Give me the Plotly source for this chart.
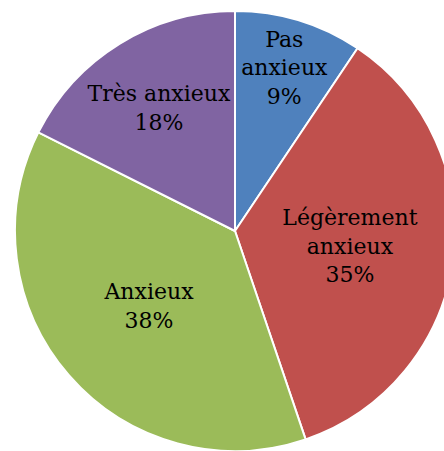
import plotly.graph_objects as go

categories = ["Pas<br>anxieux", "Légèrement<br>anxieux", "Anxieux", "Très anxieux"]
values = [9.4, 35.4, 37.6, 17.6]
colors = ["#4F81BD", "#C0504D", "#9BBB59", "#8064A2"]

fig = go.Figure(go.Pie(
    labels=categories,
    values=values,
    sort=False,
    direction="clockwise",
    rotation=0,
    marker=dict(colors=colors, line=dict(color="white", width=2)),
    texttemplate="%{label}<br>%{percent:.0%}",
    textposition="inside",
    insidetextorientation="horizontal",
    textfont=dict(family="DejaVu Serif", size=22, color="black"),
    hoverinfo="label+percent",
    showlegend=False,
))

fig.update_layout(
    width=470, height=451,
    margin=dict(l=15, r=15, t=11, b=0),
    paper_bgcolor="white",
    uniformtext=dict(minsize=22, mode="show"),
)

fig.write_html(
    "out.html",
    config={"displayModeBar": False},
    post_script="document.body.style.margin='0';document.body.style.overflow='hidden';",
)
